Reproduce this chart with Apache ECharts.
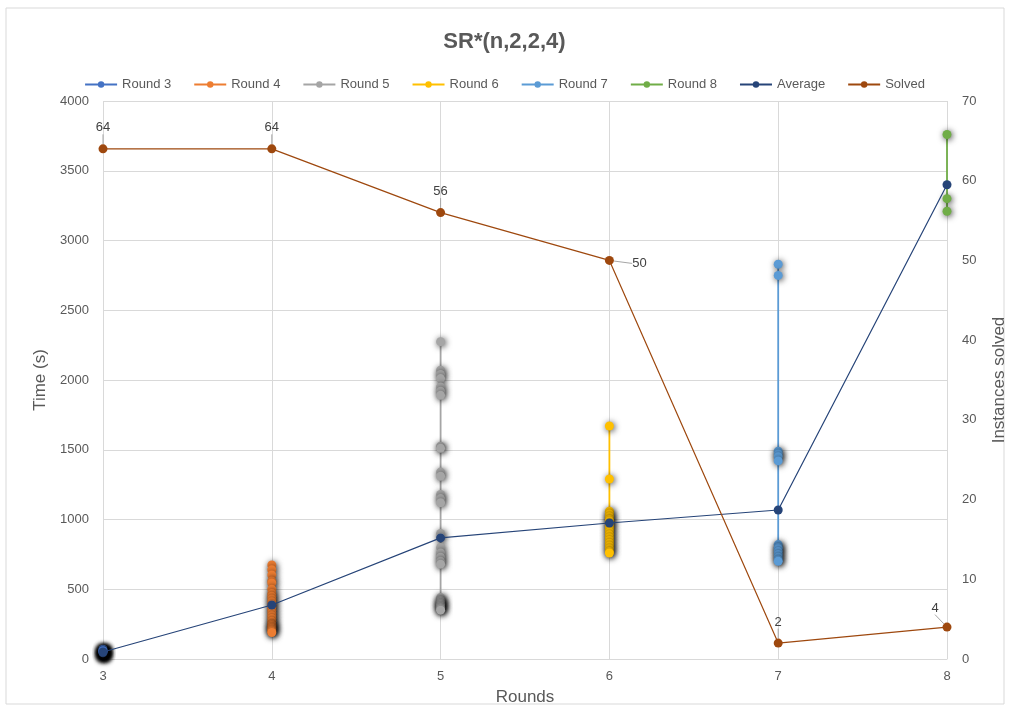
<!DOCTYPE html>
<html>
<head>
<meta charset="utf-8">
<script src="https://cdn.jsdelivr.net/npm/echarts@6/dist/echarts.min.js"></script>
<style>html,body{margin:0;padding:0;background:#fff}#c{width:1009px;height:708px}</style>
</head>
<body>
<div id="c"></div>
<script>
const rounds = [3, 4, 5, 6, 7, 8];
const round3 = [22, 28, 31, 35, 38, 40, 42, 45, 47, 48, 50, 52, 53, 55, 57, 58, 60, 62, 64, 66, 68, 70, 45, 50, 55, 60];
const round4 = [674, 640, 602, 560, 545, 500, 470, 450, 430, 410, 390, 370, 350, 330, 310, 290, 270, 250, 240, 230, 220, 210, 200, 190];
const round5 = [2275, 2070, 2040, 2010, 1950, 1920, 1890, 1525, 1510, 1340, 1310, 1180, 1150, 1120, 900, 870, 800, 760, 730, 700, 680, 440, 420, 410, 400, 390, 380, 370, 360, 350];
const round6 = [1670, 1290, 1060, 1040, 1020, 1000, 990, 970, 950, 930, 910, 890, 870, 850, 830, 810, 790, 770, 760];
const round7 = [2830, 2750, 1490, 1470, 1450, 1420, 820, 800, 790, 770, 750, 730, 710, 700];
const round8 = [3760, 3300, 3210];
const average = [50, 387, 868, 975, 1068, 3400];
const solved = [64, 64, 56, 50, 2, 4];

const txt = '#595959';
const font = 'Liberation Sans';
const shadow = {shadowBlur: 6, shadowColor: 'rgba(0,0,0,0.75)', shadowOffsetX: 1, shadowOffsetY: 1};

function roundSeries(name, x, vals, color) {
  return {
    name: name, type: 'line', xAxisIndex: 0, yAxisIndex: 0,
    data: vals.map(v => [x, v]),
    symbol: 'circle', symbolSize: 9,
    itemStyle: Object.assign({color: color}, shadow),
    lineStyle: {color: color, width: 1.8},
    z: 2
  };
}

const chart = echarts.init(document.getElementById('c'));
chart.setOption({
  backgroundColor: '#fff',
  animation: false,
  textStyle: {fontFamily: font},
  title: {
    text: 'SR*(n,2,2,4)', left: 'center', top: 26,
    textStyle: {fontSize: 22, fontWeight: 'bold', color: txt, fontFamily: font}
  },
  legend: {
    top: 73, left: 'center', itemGap: 22, itemWidth: 32, itemHeight: 8,
    textStyle: {fontSize: 13, color: txt, fontFamily: font},
    data: ['Round 3', 'Round 4', 'Round 5', 'Round 6', 'Round 7', 'Round 8', 'Average', 'Solved']
  },
  graphic: [{
    type: 'rect', shape: {x: 6, y: 8, width: 998, height: 696},
    style: {fill: 'none', stroke: '#d9d9d9', lineWidth: 1}, silent: true, z: -10
  }],
  grid: {left: 103, right: 62, top: 101, bottom: 49, outerBoundsMode: 'none', containLabel: false},
  xAxis: {
    type: 'value', min: 3, max: 8, interval: 1,
    name: 'Rounds', nameLocation: 'middle', nameGap: 30,
    nameTextStyle: {fontSize: 17, color: txt, fontFamily: font},
    axisLine: {show: true, lineStyle: {color: '#d9d9d9'}},
    axisTick: {show: false},
    axisLabel: {fontSize: 13, color: txt, margin: 11},
    splitLine: {show: true, lineStyle: {color: '#d9d9d9'}}
  },
  yAxis: [{
    type: 'value', min: 0, max: 4000, interval: 500,
    name: 'Time (s)', nameLocation: 'middle', nameGap: 54, nameRotate: 90,
    nameTextStyle: {fontSize: 17, color: txt, fontFamily: font},
    axisLine: {show: false}, axisTick: {show: false},
    axisLabel: {fontSize: 13, color: txt, margin: 14, formatter: v => String(v)},
    splitLine: {show: true, lineStyle: {color: '#d9d9d9'}}
  }, {
    type: 'value', min: 0, max: 70, interval: 10, position: 'right',
    name: 'Instances solved', nameLocation: 'middle', nameGap: 44, nameRotate: 90,
    nameTextStyle: {fontSize: 17, color: txt, fontFamily: font},
    axisLine: {show: false}, axisTick: {show: false},
    axisLabel: {fontSize: 13, color: txt, margin: 15, formatter: v => String(v)},
    splitLine: {show: false}
  }],
  series: [
    roundSeries('Round 3', rounds[0], round3, '#4472C4'),
    roundSeries('Round 4', rounds[1], round4, '#ED7D31'),
    roundSeries('Round 5', rounds[2], round5, '#A5A5A5'),
    roundSeries('Round 6', rounds[3], round6, '#FFC000'),
    roundSeries('Round 7', rounds[4], round7, '#5B9BD5'),
    roundSeries('Round 8', rounds[5], round8, '#70AD47'),
    {
      name: 'Average', type: 'line', yAxisIndex: 0,
      data: rounds.map((r, i) => [r, average[i]]),
      symbol: 'circle', symbolSize: 9,
      itemStyle: {color: '#264478'},
      lineStyle: {color: '#264478', width: 1.2},
      z: 5
    },
    {
      name: 'Solved', type: 'line', yAxisIndex: 1,
      data: rounds.map((r, i) => [r, solved[i]]),
      symbol: 'circle', symbolSize: 9,
      itemStyle: {color: '#9E480E'},
      lineStyle: {color: '#9E480E', width: 1.2},
      label: {show: true, position: 'top', distance: 10, fontSize: 13, color: '#404040', formatter: p => p.value[1]},
      labelLine: {show: true, lineStyle: {color: '#a6a6a6', width: 1}},
      labelLayout: function (p) {
        if (p.dataIndex === 3) return {dx: 30, dy: 24};
        if (p.dataIndex === 5) return {dx: -12, dy: 2};
        return {};
      },
      z: 6
    }
  ]
});
</script>
</body>
</html>
